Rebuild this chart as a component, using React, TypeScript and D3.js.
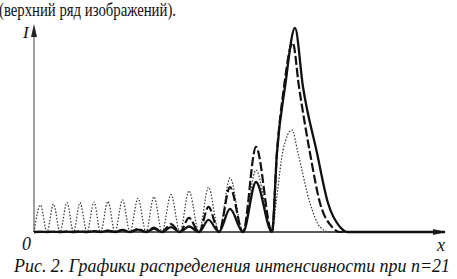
import * as d3 from "d3";

// shared lobe positions (x units) – zeros and side-lobe peaks
const lobeZeros = [0, 0.316, 0.633, 0.961, 1.29, 1.618, 1.971, 2.336, 2.725, 3.114, 3.552, 4.015, 4.501, 5.085];
const lobePeaks = [0.158, 0.474, 0.803, 1.119, 1.46, 1.8, 2.153, 2.53, 2.92, 3.333, 3.771, 4.246, 4.769, 5.401];

// side-lobe heights per curve
const dottedLobes = [0.132, 0.137, 0.144, 0.144, 0.147, 0.15, 0.157, 0.165, 0.173, 0.183, 0.202, 0.219, 0.265, 0.304];
const dashedLobes = [0.001, 0.001, 0.002, 0.003, 0.005, 0.007, 0.01, 0.015, 0.022, 0.039, 0.069, 0.123, 0.22, 0.417];
const solidLobes = [0.001, 0.001, 0.002, 0.002, 0.004, 0.006, 0.009, 0.012, 0.017, 0.024, 0.027, 0.059, 0.113, 0.245];

// main maximum
const solidMainX = [5.791, 5.912, 6.107, 6.35, 6.545, 6.886, 7.153, 7.445, 7.64, 10];
const solidMainI = [0, 0.39, 0.711, 1.0, 0.711, 0.387, 0.142, 0.025, 0, 0];
const dashedMainX = [5.791, 5.912, 6.083, 6.294, 6.448, 6.715, 6.959, 7.251, 7.445, 10];
const dashedMainI = [0, 0.39, 0.711, 0.928, 0.711, 0.387, 0.142, 0.025, 0, 0];
const dottedMainX = [5.791, 5.912, 6.058, 6.277, 6.423, 6.715, 6.959, 7.202, 10];
const dottedMainI = [0, 0.18, 0.4, 0.5, 0.387, 0.142, 0.025, 0, 0];

const topText = "(верхний ряд изображений).";
const caption = "Рис. 2. Графики распределения интенсивности при n=21";

const W = 457;
const H = 279;
const serif = "Tinos, 'Liberation Serif', 'DejaVu Serif', 'Noto Serif', FreeSerif, Times, serif";

type Pt = [number, number];

function buildSeries(lobes: number[], mainX: number[], mainI: number[]): Pt[] {
  const pts: Pt[] = [];
  lobeZeros.forEach((z, i) => {
    pts.push([z, 0]);
    pts.push([lobePeaks[i], lobes[i]]);
  });
  mainX.forEach((x, i) => pts.push([x, mainI[i]]));
  return pts;
}

export default function App() {
  const x = d3.scaleLinear().domain([0, 10]).range([34, 445]);
  const y = d3.scaleLinear().domain([0, 1]).range([232, 28]);

  const line = d3
    .line<Pt>()
    .x((d) => x(d[0]))
    .y((d) => y(d[1]))
    .curve(d3.curveMonotoneX);

  const dotted = buildSeries(dottedLobes, dottedMainX, dottedMainI);
  const dashed = buildSeries(dashedLobes, dashedMainX, dashedMainI);
  const solid = buildSeries(solidLobes, solidMainX, solidMainI);

  const x0 = x(0);
  const y0 = y(0);
  const yTip = 24;
  const xTip = 446;

  return (
    <svg
      width={W}
      height={H}
      style={{ position: "absolute", left: 0, top: 0, background: "#fff", fontFamily: serif }}
    >
      <text x={-1} y={16} fontSize={19} textLength={177} lengthAdjust="spacingAndGlyphs" fill="#111" style={{ fontFamily: serif }}>
        {topText}
      </text>

      {/* axes */}
      <line x1={x0} x2={x0} y1={y0} y2={yTip + 8} stroke="#888" strokeWidth={1.6} />
      <path d={`M${x0},${yTip} L${x0 - 3},${yTip + 13} L${x0 + 3},${yTip + 13} Z`} fill="#222" />
      <line x1={x0} x2={xTip - 8} y1={y0} y2={y0} stroke="#222" strokeWidth={1.5} />
      <path d={`M${xTip},${y0} L${xTip - 13},${y0 - 3} L${xTip - 13},${y0 + 3} Z`} fill="#222" />

      {/* curves */}
      <path d={line(dotted) ?? ""} fill="none" stroke="#333" strokeWidth={1.2} strokeDasharray="1.5,1.7" />
      <path d={line(dashed) ?? ""} fill="none" stroke="#111" strokeWidth={2.2} strokeDasharray="9,3" />
      <path d={line(solid) ?? ""} fill="none" stroke="#111" strokeWidth={2.3} />

      <g style={{ fontFamily: serif, fontStyle: "italic" }} fill="#111">
        <text x={23} y={38} fontSize={17}>I</text>
        <text x={22} y={250} fontSize={18}>0</text>
        <text x={437} y={251} fontSize={18}>x</text>
        <text x={14} y={272} fontSize={18} textLength={436} lengthAdjust="spacingAndGlyphs">
          {caption}
        </text>
      </g>
    </svg>
  );
}
